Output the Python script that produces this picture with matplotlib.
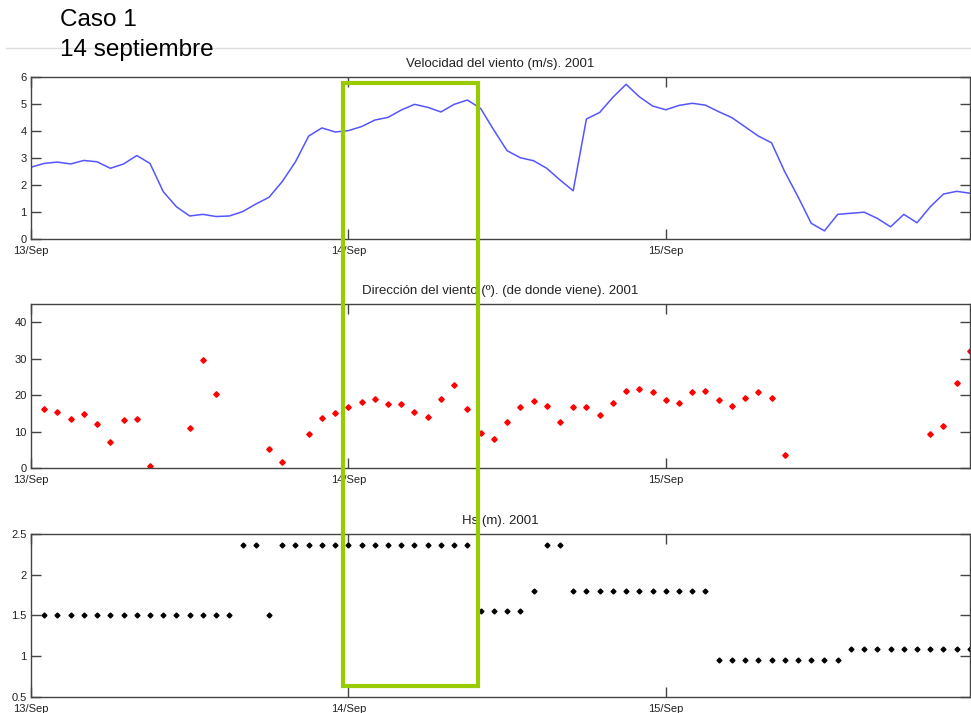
import numpy as np
import matplotlib
matplotlib.use("Agg")
import matplotlib.pyplot as plt
from matplotlib.patches import Rectangle
from matplotlib.lines import Line2D

plt.rcParams['font.family'] = ['Liberation Sans', 'DejaVu Sans']

# hourly series starting 13/Sep 00:00
hours = np.arange(72)
day_ticks = [0, 24, 48]
day_labels = ["13/Sep", "14/Sep", "15/Sep"]

# wind speed (m/s)
speed = [2.66, 2.80, 2.85, 2.78, 2.91, 2.86, 2.62, 2.78, 3.09, 2.80,
         1.76, 1.20, 0.86, 0.92, 0.84, 0.86, 1.02, 1.30, 1.55, 2.13,
         2.86, 3.81, 4.11, 3.96, 4.01, 4.16, 4.40, 4.50, 4.77, 4.98,
         4.87, 4.70, 4.98, 5.14, 4.83, 4.03, 3.27, 3.01, 2.90, 2.62,
         2.19, 1.79, 4.44, 4.68, 5.24, 5.72, 5.26, 4.92, 4.78, 4.94,
         5.02, 4.95, 4.71, 4.49, 4.15, 3.81, 3.56, 2.49, 1.57, 0.59,
         0.31, 0.92, 0.96, 1.00, 0.77, 0.46, 0.92, 0.61, 1.20, 1.67,
         1.77, 1.70]

# wind direction (deg), gaps where no record
nan = np.nan
direction = [nan, 16.3, 15.4, 13.4, 14.8, 12.2, 7.3, 13.1, 13.4, 0.7,
             nan, nan, 11.1, 29.6, 20.3, nan, nan, nan, 5.3, 1.8,
             nan, 9.3, 13.7, 15.1, 16.8, 18.2, 18.9, 17.7, 17.7, 15.4,
             14.0, 18.9, 22.9, 16.2, 9.6, 7.9, 12.8, 16.7, 18.3, 17.2,
             12.8, 16.9, 16.7, 14.6, 18.0, 21.3, 21.6, 21.0, 18.7, 18.0,
             21.0, 21.3, 18.6, 17.2, 19.2, 21.0, 19.2, 3.7, nan, nan,
             nan, nan, nan, nan, nan, nan, nan, nan, 9.4, 11.7,
             23.5, 32.0]

# significant wave height (m)
hs = [nan, 1.5, 1.5, 1.5, 1.5, 1.5, 1.5, 1.5, 1.5, 1.5,
      1.5, 1.5, 1.5, 1.5, 1.5, 1.5, 2.37, 2.37, 1.5, 2.37,
      2.37, 2.37, 2.37, 2.37, 2.37, 2.37, 2.37, 2.37, 2.37, 2.37,
      2.37, 2.37, 2.37, 2.37, 1.55, 1.55, 1.55, 1.55, 1.8, 2.37,
      2.37, 1.8, 1.8, 1.8, 1.8, 1.8, 1.8, 1.8, 1.8, 1.8,
      1.8, 1.8, 0.95, 0.95, 0.95, 0.95, 0.95, 0.95, 0.95, 0.95,
      0.95, 0.95, 1.08, 1.08, 1.08, 1.08, 1.08, 1.08, 1.08, 1.08,
      1.08, 1.08]

fig = plt.figure(figsize=(9.71, 7.13), dpi=100)

ax1 = fig.add_axes([0.0319, 0.6644, 0.967, 0.228])
ax2 = fig.add_axes([0.0319, 0.3432, 0.967, 0.2304])
ax3 = fig.add_axes([0.0319, 0.0229, 0.967, 0.2282])

title_kw = dict(fontsize=9.5, color='#222222', pad=7)

ax1.plot(hours, speed, color='#5555ff', lw=1.1)
ax1.set_ylim(0, 6)
ax1.set_yticks([0, 1, 2, 3, 4, 5, 6])
ax1.set_title("Velocidad del viento (m/s). 2001", **title_kw)

ax2.plot(hours, direction, 'D', color='red', ms=2.8, mec='red')
ax2.set_ylim(0, 45)
ax2.set_yticks([0, 10, 20, 30, 40])
ax2.set_title("Dirección del viento (º). (de donde viene). 2001", **title_kw)

ax3.plot(hours, hs, 'D', color='black', ms=2.5)
ax3.set_ylim(0.5, 2.5)
ax3.set_yticks([0.5, 1, 1.5, 2, 2.5])
ax3.set_yticklabels(["0.5", "1", "1.5", "2", "2.5"])
ax3.set_title("Hs (m). 2001", **title_kw)

for ax in (ax1, ax2, ax3):
    ax.set_xlim(0, 71)
    ax.set_xticks(day_ticks)
    ax.set_xticklabels(day_labels)
    ax.tick_params(direction='in', top=True, right=True, length=7, width=1,
                   color='#444444', labelsize=8, labelcolor='#222222')
    ax.tick_params(axis='x', pad=5)
    ax.tick_params(axis='y', pad=3)
    for sp in ax.spines.values():
        sp.set_color('#444444')
        sp.set_linewidth(1)

# slide header
fig.text(0.0618, 0.972, "Caso 1", fontsize=17.5, va='center', ha='left')
fig.text(0.0618, 0.930, "14 septiembre", fontsize=17.5, va='center', ha='left')
fig.add_artist(Line2D([6 / 971, 1], [1 - 48 / 713] * 2, color='#dddddd', lw=1))

# highlighted window around 14/Sep
fig.add_artist(Rectangle((343 / 971, 1 - 686 / 713), 135 / 971, 603 / 713,
                         transform=fig.transFigure, fill=False,
                         edgecolor='#99cc00', lw=3, zorder=10))

fig.savefig("out.png", dpi=100)
